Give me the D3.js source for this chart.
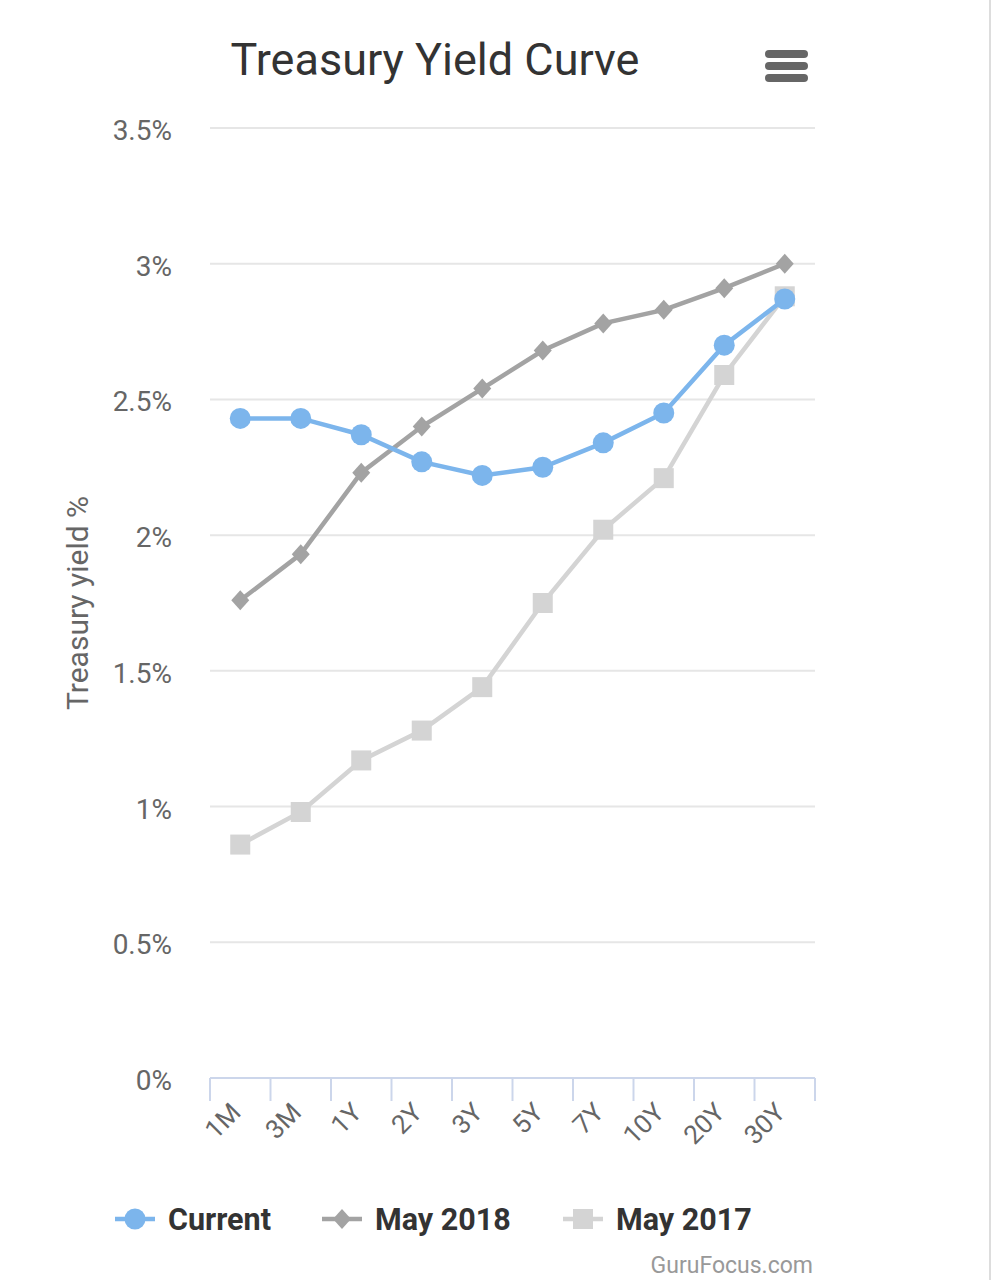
<!DOCTYPE html>
<html>
<head>
    <script src="https://d3js.org/d3.v7.min.js"></script>
    <style>
        body { margin: 0; background: #fff; }
        svg { font-family: Roboto, "Noto Sans", sans-serif; }
        .grid line { stroke: #e6e6e6; stroke-width: 2px; }
        .ylabel { fill: #666; font-size: 28px; text-anchor: end; }
        .xlabel { fill: #666; font-size: 26px; text-anchor: end; }
        .legend text { fill: #333; font-size: 30.5px; font-weight: bold; }
    </style>
</head>
<body>
    <svg width="993" height="1280"></svg>
    <script>
        var categories = ["1M", "3M", "1Y", "2Y", "3Y", "5Y", "7Y", "10Y", "20Y", "30Y"];
        var current  = [2.43, 2.43, 2.37, 2.27, 2.22, 2.25, 2.34, 2.45, 2.70, 2.87];
        var may2018  = [1.76, 1.93, 2.23, 2.40, 2.54, 2.68, 2.78, 2.83, 2.91, 3.00];
        var may2017  = [0.86, 0.98, 1.17, 1.28, 1.44, 1.75, 2.02, 2.21, 2.59, 2.88];
        var yTicks = [0, 0.5, 1, 1.5, 2, 2.5, 3, 3.5];

        var series = [
            { name: "Current",  values: current, color: "#7cb5ec", symbol: "circle" },
            { name: "May 2018", values: may2018, color: "#a3a3a3", symbol: "diamond" },
            { name: "May 2017", values: may2017, color: "#d4d4d4", symbol: "square" }
        ];

        var svg = d3.select("svg");

        var x = d3.scaleBand().domain(categories).range([210, 815]);
        var y = d3.scaleLinear().domain([0, 3.5]).range([1078, 128]);

        // title
        svg.append("text")
            .attr("x", 435).attr("y", 75)
            .attr("text-anchor", "middle")
            .style("font-size", "45px")
            .style("fill", "#333")
            .text("Treasury Yield Curve");

        // menu icon
        [54, 66, 78].forEach(function(yy) {
            svg.append("rect")
                .attr("x", 765).attr("y", yy - 4)
                .attr("width", 43).attr("height", 8)
                .attr("rx", 4)
                .style("fill", "#666");
        });

        // gridlines
        svg.append("g").attr("class", "grid")
            .selectAll("line")
            .data(yTicks.filter(function(d) { return d > 0; }))
            .enter().append("line")
            .attr("x1", 210).attr("x2", 815)
            .attr("y1", function(d) { return y(d); })
            .attr("y2", function(d) { return y(d); });

        svg.selectAll(".ylabel")
            .data(yTicks)
            .enter().append("text")
            .attr("class", "ylabel")
            .attr("x", 172)
            .attr("y", function(d) { return y(d) + 12; })
            .text(function(d) { return d + "%"; });

        svg.append("text")
            .attr("transform", "translate(88,603) rotate(-90)")
            .attr("text-anchor", "middle")
            .style("font-size", "30px")
            .style("fill", "#666")
            .text("Treasury yield %");

        // x axis
        var xg = svg.append("g");
        xg.append("line")
            .attr("x1", 210).attr("x2", 815)
            .attr("y1", 1078).attr("y2", 1078)
            .style("stroke", "#ccd6eb").style("stroke-width", 2);
        var tickPos = categories.map(function(c) { return x(c); }).concat([x.range()[1]]);
        xg.selectAll(".tick")
            .data(tickPos)
            .enter().append("line")
            .attr("x1", function(d) { return d; })
            .attr("x2", function(d) { return d; })
            .attr("y1", 1078).attr("y2", 1101)
            .style("stroke", "#ccd6eb").style("stroke-width", 2);

        xg.selectAll(".xlabel")
            .data(categories)
            .enter().append("text")
            .attr("class", "xlabel")
            .attr("transform", function(d) {
                return "translate(" + (x(d) + x.bandwidth() / 2 + 2) + ",1114) rotate(-45)";
            })
            .text(function(d) { return d; });

        function drawSymbol(g, type, color, cx, cy) {
            if (type === "circle") {
                g.append("circle").attr("cx", cx).attr("cy", cy).attr("r", 10.5).style("fill", color);
            } else if (type === "diamond") {
                g.append("path")
                    .attr("d", "M" + cx + "," + (cy - 10) + "L" + (cx + 9) + "," + cy +
                        "L" + cx + "," + (cy + 10) + "L" + (cx - 9) + "," + cy + "Z")
                    .style("fill", color);
            } else {
                g.append("rect").attr("x", cx - 10).attr("y", cy - 10)
                    .attr("width", 20).attr("height", 20).style("fill", color);
            }
        }

        var line = d3.line()
            .x(function(d, i) { return x(categories[i]) + x.bandwidth() / 2; })
            .y(function(d) { return y(d); });

        // draw back to front
        series.slice().reverse().forEach(function(s) {
            var g = svg.append("g");
            g.append("path")
                .attr("d", line(s.values))
                .style("fill", "none")
                .style("stroke", s.color)
                .style("stroke-width", 4.5);
            s.values.forEach(function(v, i) {
                drawSymbol(g, s.symbol, s.color, x(categories[i]) + x.bandwidth() / 2, y(v));
            });
        });

        // legend
        var legendX = [115, 322, 563];
        var legend = svg.append("g").attr("class", "legend");
        series.forEach(function(s, i) {
            var lx = legendX[i];
            legend.append("line")
                .attr("x1", lx).attr("x2", lx + 40)
                .attr("y1", 1219).attr("y2", 1219)
                .style("stroke", s.color).style("stroke-width", 4.5);
            drawSymbol(legend, s.symbol, s.color, lx + 20, 1219);
            legend.append("text")
                .attr("x", lx + 53).attr("y", 1230)
                .text(s.name);
        });

        svg.append("text")
            .attr("x", 813).attr("y", 1273)
            .attr("text-anchor", "end")
            .style("font-size", "23px")
            .style("fill", "#999")
            .text("GuruFocus.com");

        svg.append("line")
            .attr("x1", 990).attr("x2", 990)
            .attr("y1", 0).attr("y2", 1280)
            .style("stroke", "#ddd").style("stroke-width", 2);
    </script>
</body>
</html>
